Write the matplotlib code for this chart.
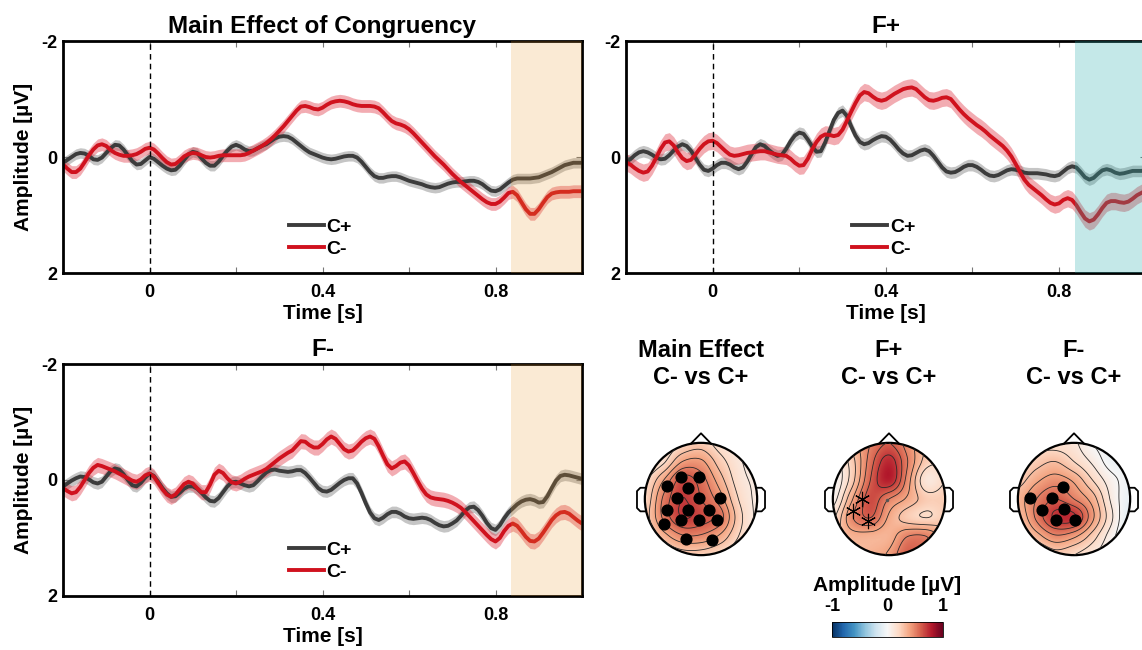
import numpy as np
import matplotlib
matplotlib.use("Agg")
import matplotlib.pyplot as plt
from matplotlib.patches import Circle
from matplotlib.lines import Line2D
from matplotlib.cm import ScalarMappable
from matplotlib.colors import Normalize

plt.rcParams['font.family'] = ['Liberation Sans', 'DejaVu Sans']
plt.rcParams['font.weight'] = 'bold'
plt.rcParams['axes.labelweight'] = 'bold'
plt.rcParams['axes.titleweight'] = 'bold'
plt.rcParams['axes.unicode_minus'] = False

""" time axis: -0.2 .. 1.0 s every 10 ms """
time = np.round(np.arange(121) * 0.01 - 0.2, 2)

""" grand averages (uV), read off the figure """
main_cpos = [0.10, 0.05, 0.00, -0.05, -0.07, -0.06, -0.02, 0.04, 0.05, 0.01,
             -0.07, -0.15, -0.21, -0.20, -0.13, -0.03, 0.07, 0.13, 0.12, 0.06,
             0.00, 0.03, 0.09, 0.15, 0.20, 0.23, 0.22, 0.15, 0.05, -0.04,
             -0.09, -0.07, 0.02, 0.10, 0.15, 0.15, 0.08, -0.02, -0.11, -0.18,
             -0.21, -0.18, -0.13, -0.10, -0.11, -0.15, -0.19, -0.22, -0.27, -0.32,
             -0.35, -0.36, -0.35, -0.31, -0.25, -0.19, -0.13, -0.08, -0.05, -0.02,
             0.01, 0.03, 0.04, 0.03, 0.01, -0.01, -0.02, -0.02, 0.01, 0.08,
             0.17, 0.26, 0.33, 0.36, 0.36, 0.34, 0.33, 0.33, 0.35, 0.38,
             0.41, 0.43, 0.45, 0.47, 0.50, 0.52, 0.53, 0.52, 0.49, 0.46,
             0.44, 0.43, 0.43, 0.42, 0.41, 0.41, 0.43, 0.47, 0.53, 0.58,
             0.59, 0.56, 0.50, 0.44, 0.39, 0.37, 0.37, 0.37, 0.37, 0.36,
             0.35, 0.32, 0.29, 0.26, 0.22, 0.18, 0.14, 0.12, 0.10, 0.10,
             0.10]
main_cneg = [0.13, 0.20, 0.26, 0.26, 0.20, 0.09, -0.03, -0.13, -0.20, -0.22,
             -0.19, -0.12, -0.07, -0.04, -0.02, -0.02, -0.03, -0.05, -0.09, -0.14,
             -0.16, -0.13, -0.06, 0.02, 0.09, 0.13, 0.12, 0.06, -0.01, -0.05,
             -0.07, -0.06, -0.03, 0.00, 0.01, 0.00, -0.02, -0.03, -0.03, -0.03,
             -0.03, -0.03, -0.04, -0.07, -0.11, -0.15, -0.19, -0.24, -0.30, -0.37,
             -0.45, -0.53, -0.62, -0.71, -0.80, -0.87, -0.88, -0.86, -0.83, -0.82,
             -0.85, -0.90, -0.94, -0.96, -0.97, -0.96, -0.94, -0.91, -0.89, -0.88,
             -0.88, -0.88, -0.87, -0.84, -0.77, -0.69, -0.62, -0.58, -0.56, -0.53,
             -0.48, -0.41, -0.33, -0.25, -0.17, -0.09, -0.01, 0.06, 0.13, 0.21,
             0.29, 0.36, 0.43, 0.49, 0.55, 0.61, 0.67, 0.73, 0.78, 0.81,
             0.81, 0.77, 0.70, 0.62, 0.60, 0.66, 0.78, 0.90, 0.98, 0.98,
             0.90, 0.79, 0.69, 0.63, 0.61, 0.60, 0.60, 0.60, 0.59, 0.59,
             0.59]
fplus_cpos = [0.08, 0.04, -0.03, -0.08, -0.10, -0.08, -0.04, 0.01, 0.04, 0.03,
              -0.03, -0.11, -0.18, -0.22, -0.19, -0.11, 0.01, 0.13, 0.22, 0.24,
              0.20, 0.14, 0.10, 0.10, 0.13, 0.18, 0.21, 0.18, 0.08, -0.05,
              -0.17, -0.22, -0.19, -0.12, -0.06, -0.02, -0.04, -0.14, -0.27, -0.37,
              -0.42, -0.40, -0.30, -0.18, -0.09, -0.10, -0.25, -0.45, -0.64, -0.76,
              -0.80, -0.71, -0.53, -0.37, -0.26, -0.22, -0.24, -0.29, -0.33, -0.36,
              -0.35, -0.30, -0.22, -0.13, -0.06, -0.02, -0.03, -0.07, -0.11, -0.13,
              -0.10, -0.02, 0.08, 0.18, 0.25, 0.27, 0.26, 0.22, 0.17, 0.14,
              0.14, 0.17, 0.22, 0.28, 0.32, 0.33, 0.31, 0.27, 0.23, 0.21,
              0.22, 0.24, 0.27, 0.28, 0.28, 0.28, 0.29, 0.30, 0.32, 0.33,
              0.31, 0.25, 0.19, 0.16, 0.18, 0.26, 0.35, 0.39, 0.36, 0.29,
              0.23, 0.21, 0.23, 0.27, 0.29, 0.28, 0.26, 0.24, 0.24, 0.24,
              0.23]
fplus_cneg = [0.09, 0.13, 0.19, 0.24, 0.27, 0.25, 0.15, 0.01, -0.14, -0.25,
              -0.27, -0.20, -0.08, 0.02, 0.07, 0.05, -0.04, -0.14, -0.22, -0.27,
              -0.28, -0.24, -0.17, -0.10, -0.04, -0.02, -0.03, -0.05, -0.07, -0.08,
              -0.09, -0.10, -0.10, -0.08, -0.06, -0.04, -0.03, -0.02, 0.03, 0.10,
              0.15, 0.14, 0.03, -0.13, -0.26, -0.35, -0.39, -0.38, -0.36, -0.38,
              -0.47, -0.62, -0.78, -0.93, -1.06, -1.12, -1.10, -1.04, -0.99, -0.97,
              -0.99, -1.04, -1.09, -1.13, -1.17, -1.19, -1.20, -1.17, -1.10, -1.03,
              -0.98, -0.97, -0.99, -1.02, -1.03, -1.00, -0.91, -0.82, -0.74, -0.67,
              -0.61, -0.55, -0.50, -0.44, -0.37, -0.31, -0.25, -0.19, -0.11, -0.01,
              0.12, 0.26, 0.39, 0.48, 0.54, 0.60, 0.66, 0.73, 0.79, 0.82,
              0.80, 0.74, 0.71, 0.74, 0.83, 0.95, 1.06, 1.11, 1.08, 0.99,
              0.88, 0.79, 0.76, 0.76, 0.78, 0.79, 0.77, 0.72, 0.66, 0.62,
              0.58]
fminus_cpos = [0.11, 0.06, 0.01, -0.03, -0.06, -0.05, -0.01, 0.04, 0.06, 0.03,
               -0.06, -0.15, -0.20, -0.18, -0.10, 0.00, 0.09, 0.11, 0.05, -0.04,
               -0.11, -0.07, 0.03, 0.14, 0.23, 0.29, 0.28, 0.22, 0.15, 0.11,
               0.11, 0.15, 0.22, 0.30, 0.36, 0.37, 0.31, 0.21, 0.11, 0.04,
               0.03, 0.06, 0.09, 0.11, 0.09, 0.02, -0.06, -0.13, -0.17, -0.18,
               -0.16, -0.15, -0.14, -0.15, -0.17, -0.17, -0.12, -0.04, 0.05, 0.14,
               0.19, 0.20, 0.17, 0.11, 0.05, 0.00, -0.03, -0.03, 0.06, 0.22,
               0.40, 0.56, 0.66, 0.69, 0.65, 0.59, 0.55, 0.55, 0.58, 0.63,
               0.66, 0.67, 0.66, 0.65, 0.66, 0.69, 0.74, 0.78, 0.80, 0.79,
               0.75, 0.70, 0.62, 0.53, 0.47, 0.46, 0.52, 0.62, 0.74, 0.83,
               0.86, 0.78, 0.66, 0.56, 0.49, 0.42, 0.37, 0.34, 0.33, 0.35,
               0.39, 0.38, 0.28, 0.14, 0.01, -0.07, -0.09, -0.08, -0.06, -0.04,
               -0.02]
fminus_cneg = [0.14, 0.19, 0.23, 0.21, 0.12, 0.00, -0.12, -0.21, -0.26, -0.24,
               -0.21, -0.18, -0.15, -0.11, -0.07, -0.03, 0.01, 0.03, -0.01, -0.08,
               -0.11, -0.06, 0.05, 0.16, 0.25, 0.29, 0.25, 0.16, 0.07, 0.03,
               0.06, 0.14, 0.21, 0.21, 0.08, -0.09, -0.16, -0.12, -0.03, 0.04,
               0.06, 0.03, -0.02, -0.06, -0.09, -0.12, -0.15, -0.19, -0.25, -0.31,
               -0.37, -0.42, -0.47, -0.51, -0.59, -0.67, -0.66, -0.60, -0.56, -0.56,
               -0.62, -0.70, -0.75, -0.71, -0.62, -0.53, -0.49, -0.51, -0.58, -0.66,
               -0.72, -0.75, -0.71, -0.58, -0.42, -0.27, -0.20, -0.24, -0.30, -0.32,
               -0.25, -0.12, 0.02, 0.15, 0.25, 0.30, 0.32, 0.33, 0.34, 0.36,
               0.39, 0.43, 0.48, 0.55, 0.63, 0.71, 0.79, 0.87, 0.95, 1.02,
               1.06, 1.00, 0.88, 0.79, 0.75, 0.79, 0.88, 0.98, 1.05, 1.06,
               1.01, 0.91, 0.80, 0.69, 0.61, 0.56, 0.55, 0.58, 0.64, 0.70,
               0.75]

""" standard error half widths (C+, C-) """
main_sem = [0.09, 0.11]
fplus_sem = [0.10, 0.15]
fminus_sem = [0.10, 0.13]

""" time window of the topographies """
window = [0.836, 1.0]

""" topography grids, 7x7 over the head square, top row = front """
topo_main = [[0.05, 0.10, 0.20, 0.25, 0.15, 0.08, 0.05],
             [0.08, 0.18, 0.40, 0.42, 0.25, 0.12, 0.05],
             [0.18, 0.40, 0.65, 0.55, 0.35, 0.15, 0.08],
             [0.22, 0.52, 0.70, 0.60, 0.45, 0.20, 0.08],
             [0.25, 0.52, 0.70, 0.65, 0.55, 0.25, 0.08],
             [0.18, 0.35, 0.48, 0.48, 0.38, 0.20, 0.08],
             [0.08, 0.18, 0.25, 0.25, 0.20, 0.12, 0.05]]
topo_fplus = [[0.25, 0.35, 0.50, 0.60, 0.45, 0.30, 0.25],
              [0.05, 0.25, 0.55, 0.75, 0.50, 0.25, 0.20],
              [0.00, 0.25, 0.60, 0.78, 0.45, 0.12, 0.20],
              [0.05, 0.38, 0.65, 0.50, 0.38, 0.25, 0.25],
              [0.18, 0.48, 0.60, 0.38, 0.25, 0.20, 0.25],
              [0.25, 0.35, 0.35, 0.35, 0.50, 0.50, 0.35],
              [0.25, 0.30, 0.35, 0.42, 0.60, 0.50, 0.35]]
topo_fminus = [[0.12, 0.15, 0.15, 0.12, 0.00, -0.05, -0.05],
               [0.15, 0.25, 0.30, 0.20, 0.08, -0.05, -0.05],
               [0.25, 0.38, 0.45, 0.38, 0.20, 0.04, -0.05],
               [0.35, 0.50, 0.60, 0.50, 0.35, 0.08, -0.08],
               [0.30, 0.52, 0.72, 0.72, 0.42, 0.12, -0.12],
               [0.20, 0.35, 0.48, 0.42, 0.25, 0.04, -0.12],
               [0.12, 0.15, 0.25, 0.20, 0.12, 0.00, -0.08]]

""" significant electrodes (head coords, radius 1) """
sig_main_x = [-0.35, -0.03, -0.61, -0.24, -0.43, -0.03, 0.34, -0.61, -0.24, 0.15, -0.35, -0.03, 0.28, -0.66, -0.27, 0.20]
sig_main_y = [0.40, 0.40, 0.24, 0.20, 0.01, 0.01, 0.01, -0.20, -0.19, -0.19, -0.38, -0.38, -0.38, -0.45, -0.72, -0.73]
sig_fplus_x = [-0.48, -0.64, -0.38]
sig_fplus_y = [0.00, -0.21, -0.40]
sig_fminus_x = [-0.19, -0.79, -0.40, -0.57, -0.18, -0.32, 0.01]
sig_fminus_y = [0.21, 0.01, 0.01, -0.19, -0.18, -0.38, -0.38]

gray = '#3c3c3c'
red = '#d0121e'

W, H = 1142, 650
fig = plt.figure(figsize=(W / 100, H / 100), dpi=100)


def erp_panel(rect, cpos, cneg, sem, title, shade, shade_alpha, ylabel=True):
    ax = fig.add_axes(rect)
    cpos = np.array(cpos)
    cneg = np.array(cneg)
    ax.fill_between(time, cpos - sem[0], cpos + sem[0], color='#808080', alpha=0.45, lw=0)
    ax.plot(time, cpos, color=gray, lw=2.8, solid_capstyle='round')
    ax.fill_between(time, cneg - sem[1], cneg + sem[1], color='#e03040', alpha=0.4, lw=0)
    ax.plot(time, cneg, color=red, lw=2.8, solid_capstyle='round')
    ax.axvline(0, color='k', lw=1, ls=(0, (4, 3)))
    ax.axvspan(window[0], window[1], color=shade, alpha=shade_alpha, lw=0, zorder=5)
    ax.set_xlim(-0.2, 1.0)
    ax.set_ylim(2, -2)
    ax.set_xticks([0, 0.2, 0.4, 0.6, 0.8])
    ax.set_xticklabels(['0', '', '0.4', '', '0.8'])
    ax.set_yticks([-2, 0, 2])
    ax.set_yticklabels(['-2', '0', '2'])
    ax.tick_params(axis='x', direction='in', top=True, length=4, width=0.8,
                   color='#777777', labelsize=13, pad=8)
    ax.tick_params(axis='y', direction='in', right=True, length=4, width=0.8,
                   color='#777777', labelsize=13, pad=4)
    for s in ax.spines.values():
        s.set_linewidth(2.0)
    ax.set_xlabel('Time [s]', fontsize=15, labelpad=2)
    if ylabel:
        ax.set_ylabel('Amplitude [µV]', fontsize=15, labelpad=6)
    ax.set_title(title, fontsize=17.5, pad=6)
    handles = [Line2D([], [], color=gray, lw=2.8), Line2D([], [], color=red, lw=2.8)]
    ax.legend(handles, ['C+', 'C-'], loc='center left', bbox_to_anchor=(0.435, 0.15),
              frameon=False, fontsize=14, handlelength=1.8, handletextpad=0.15,
              labelspacing=0.2, borderpad=0, borderaxespad=0)
    return ax


erp_panel([63 / W, 1 - 273 / H, 519 / W, 232 / H], main_cpos, main_cneg, main_sem,
          'Main Effect of Congruency', (230 / 255, 150 / 255, 40 / 255), 0.2)
erp_panel([626 / W, 1 - 273 / H, 519.6 / W, 232 / H], fplus_cpos, fplus_cneg, fplus_sem,
          'F+', (40 / 255, 170 / 255, 170 / 255), 0.27, ylabel=False)
erp_panel([63 / W, 1 - 596 / H, 519 / W, 232 / H], fminus_cpos, fminus_cneg, fminus_sem,
          'F-', (230 / 255, 150 / 255, 40 / 255), 0.2)


""" cubic upsampling of the 7x7 grids """
def cubic_matrix(n_in, n_out):
    u = np.linspace(0, n_in - 1, n_out)
    M = np.zeros((n_out, n_in))
    i0 = np.floor(u).astype(int)
    for k in range(-1, 3):
        idx = i0 + k
        d = np.abs(u - idx)
        w = np.where(d <= 1, 1.5 * d**3 - 2.5 * d**2 + 1,
                     np.where(d < 2, -0.5 * d**3 + 2.5 * d**2 - 4 * d + 2, 0))
        np.add.at(M, (np.arange(n_out), np.clip(idx, 0, n_in - 1)), w)
    return M


n_up = 201
M = cubic_matrix(7, n_up)
xs = np.linspace(-1, 1, n_up)
ys = np.linspace(1, -1, n_up)
X, Y = np.meshgrid(xs, ys)
levels = np.round(np.arange(-0.9, 0.95, 0.1), 2)


def topomap(cx, cy, grid, title, dots=None, stars=None):
    size = 146
    ax = fig.add_axes([(cx - size / 2) / W, 1 - (cy + size / 2) / H, size / W, size / H])
    field = M @ np.array(grid) @ M.T
    head = Circle((0, 0), 1, transform=ax.transData)
    im = ax.imshow(field, cmap='RdBu_r', vmin=-1, vmax=1, extent=(-1, 1, -1, 1),
                   origin='upper', interpolation='bilinear')
    im.set_clip_path(head)
    cs = ax.contour(X, Y, field, levels=levels, colors='#2a2a2a', linewidths=0.6)
    cs.set_clip_path(head)
    ax.add_patch(Circle((0, 0), 1, fill=False, lw=1.6, ec='k'))
    ax.plot([-0.18, 0, 0.18], [0.985, 1.17, 0.985], color='k', lw=1.3)
    ear_x = np.array([0.985, 1.08, 1.14, 1.14, 1.08, 0.985])
    ear_y = np.array([0.20, 0.20, 0.14, -0.16, -0.22, -0.22])
    ax.plot(-ear_x, ear_y, color='k', lw=1.3)
    ax.plot(ear_x, ear_y, color='k', lw=1.3)
    if dots is not None:
        ax.scatter(dots[0], dots[1], s=60, color='k', zorder=6)
    if stars is not None:
        ax.plot(stars[0], stars[1], ls='none', marker=(6, 2, 0), ms=11, mew=0.8,
                color='k', zorder=6)
        ax.plot([-0.04], [-0.02], ls='none', marker='o', ms=1.5, color='#555555')
    ax.set_xlim(-1.3, 1.3)
    ax.set_ylim(-1.3, 1.3)
    ax.set_aspect('equal')
    ax.axis('off')
    fig.text(cx / W, 1 - 364 / H, title, ha='center', va='center', fontsize=17,
             fontweight='bold', linespacing=1.2)


topomap(701, 499, topo_main, 'Main Effect\nC- vs C+', dots=(sig_main_x, sig_main_y))
topomap(889, 499, topo_fplus, 'F+\nC- vs C+', stars=(sig_fplus_x, sig_fplus_y))
topomap(1074, 499, topo_fminus, 'F-\nC- vs C+', dots=(sig_fminus_x, sig_fminus_y))

""" colour bar """
cax = fig.add_axes([832 / W, 1 - 637 / H, 111 / W, 15 / H])
cb = fig.colorbar(ScalarMappable(Normalize(-1, 1), 'RdBu_r'), cax=cax,
                  orientation='horizontal', ticks=[-1, 0, 1])
cax.xaxis.set_ticks_position('top')
cax.xaxis.set_label_position('top')
cax.tick_params(length=0, labelsize=13, pad=5)
cb.set_label('Amplitude [µV]', fontsize=15, fontweight='bold', labelpad=5)
cb.outline.set_linewidth(0.6)

fig.savefig('out.png', dpi=100)
